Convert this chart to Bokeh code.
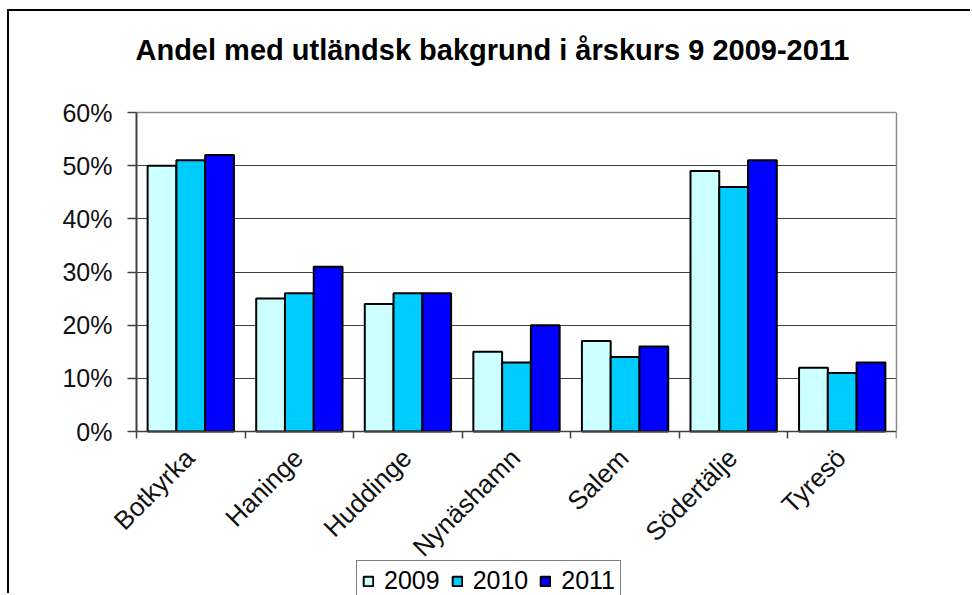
import math
from bokeh.plotting import figure
from bokeh.models import (Range1d, FixedTicker, ColumnDataSource,
                          Legend, LegendItem, Label, LabelSet, Grid, LinearAxis, BoxAnnotation)
from bokeh.core.properties import value
from bokeh.transform import dodge
from bokeh.embed import file_html
from bokeh.resources import INLINE

title = "Andel med  utländsk bakgrund i årskurs 9 2009-2011"
municipalities = ["Botkyrka", "Haninge", "Huddinge", "Nynäshamn", "Salem", "Södertälje", "Tyresö"]
years = ["2009", "2010", "2011"]
share_2009 = [50, 25, 24, 15, 17, 49, 12]
share_2010 = [51, 26, 26, 13, 14, 46, 11]
share_2011 = [52, 31, 26, 20, 16, 51, 13]
y_ticks = [0, 10, 20, 30, 40, 50, 60]
y_tick_labels = [f"{t}%" for t in y_ticks]
colors = ["#CCFFFF", "#00CCFF", "#0000FF"]

FONT = "Liberation Sans"
AXIS_COL = "#404040"
FRAME_COL = "#8c8c8c"

n = len(municipalities)

# canvas geometry (pixels)
W, H = 963, 584
FRAME_LEFT, AREA_LEFT, AREA_RIGHT = 40, 127, 887
AREA_TOP, AREA_BOTTOM = 101, 420          # pixel rows of 60% and 0%
px_per_unit = (AREA_BOTTOM - AREA_TOP) / (y_ticks[-1] - y_ticks[0])
y_start = y_ticks[0] - (H - AREA_BOTTOM) / px_per_unit
y_end = y_ticks[-1] + AREA_TOP / px_per_unit
px_per_cat = (AREA_RIGHT - AREA_LEFT) / n
x_start = -(AREA_LEFT - FRAME_LEFT) / px_per_cat

x_pos = [i + 0.5 for i in range(n)]
source = ColumnDataSource(dict(x=x_pos, name=municipalities,
                               y2009=share_2009, y2010=share_2010, y2011=share_2011))
ytick_source = ColumnDataSource(dict(y=y_ticks, text=y_tick_labels))

p = figure(width=W, height=H, x_range=Range1d(x_start, n), y_range=Range1d(y_start, y_end),
           output_backend="svg", toolbar_location=None,
           min_border_left=FRAME_LEFT, min_border_right=W - AREA_RIGHT,
           min_border_top=0, min_border_bottom=0)
p.styles = {"margin-left": "7px", "margin-top": "9px",
            "border-left": "2px solid black", "border-top": "2px solid black"}
p.background_fill_color = "white"
p.border_fill_color = "white"
p.outline_line_color = None

# grid
p.xgrid.visible = False
ygrid = p.ygrid[0]
ygrid.ticker = FixedTicker(ticks=y_ticks[1:-1])
ygrid.grid_line_color = AXIS_COL
ygrid.grid_line_width = 1
top_line = Grid(dimension=1, ticker=FixedTicker(ticks=[y_ticks[-1]]),
                grid_line_color=FRAME_COL, grid_line_width=1.5)
p.add_layout(top_line)
if "cross_bounds" in Grid.properties():
    ygrid.cross_bounds = (0, n)
    top_line.cross_bounds = (0, n)
else:
    p.add_layout(BoxAnnotation(right=0, fill_color="white", fill_alpha=1,
                               line_color=None, level="underlay"))

bw = 0.265
items = []
for k, (yr, col) in enumerate(zip(years, colors)):
    r = p.vbar(x=dodge("x", (k - 1) * bw), top="y" + yr, width=bw, bottom=0,
               fill_color=col, line_color="black", line_width=2, source=source)
    items.append(LegendItem(label=yr, renderers=[r]))

# x axis (at 0%), ticks between categories
p.xaxis.fixed_location = 0
p.xaxis.bounds = (0, n)
p.xaxis.ticker = FixedTicker(ticks=x_pos, minor_ticks=list(range(n + 1)))
p.xaxis.major_label_text_color = None
p.xaxis.major_label_standoff = 0
p.xaxis.major_tick_out = 0
p.xaxis.major_tick_in = 0
p.xaxis.minor_tick_out = 7
p.xaxis.minor_tick_in = 0
p.xaxis.minor_tick_line_color = AXIS_COL
p.xaxis.minor_tick_line_width = 1.5
p.xaxis.axis_line_color = AXIS_COL
p.xaxis.axis_line_width = 1.5

# y axis (at first category edge)
p.yaxis.fixed_location = 0
p.yaxis.bounds = (y_ticks[0], y_ticks[-1])
p.yaxis.ticker = FixedTicker(ticks=y_ticks)
p.yaxis.major_label_text_color = None
p.yaxis.major_label_standoff = 0
p.yaxis.minor_tick_out = 0
p.yaxis.minor_tick_in = 0
p.yaxis.major_tick_out = 9
p.yaxis.major_tick_in = 0
p.yaxis.major_tick_line_color = AXIS_COL
p.yaxis.major_tick_line_width = 1.5
p.yaxis.axis_line_color = AXIS_COL
p.yaxis.axis_line_width = 2

# y tick labels
p.add_layout(LabelSet(x=0, y="y", text="text", source=ytick_source, x_offset=-24,
                      text_align="right", text_baseline="middle",
                      text_font=value(FONT), text_font_size=value("25px"),
                      text_color="#111111"))

# right frame edge of the plot area
right_edge = LinearAxis(bounds=(y_ticks[0], y_ticks[-1]), ticker=FixedTicker(ticks=[]),
                        axis_line_color=FRAME_COL, axis_line_width=1.5,
                        major_tick_out=0, major_tick_in=0, minor_tick_out=0, minor_tick_in=0,
                        major_label_text_color=None)
p.add_layout(right_edge, "right")

# category labels
p.add_layout(LabelSet(x="x", y=0, text="name", source=source, angle=math.pi / 4,
                      y_offset=-22, x_offset=-1, text_align="right", text_baseline="middle",
                      text_font=value(FONT), text_font_size=value("26px"),
                      text_color="#111111"))

# title
p.add_layout(Label(x=3.316, y=y_end - 38 / px_per_unit, text=title,
                   text_align="center", text_baseline="alphabetic",
                   text_font=FONT, text_font_style="bold", text_font_size="29px",
                   text_color="black"))

legend = Legend(items=items, orientation="horizontal", location=(347 - FRAME_LEFT, -6),
                border_line_color="black", border_line_width=1.5,
                background_fill_color="white", background_fill_alpha=1,
                label_text_font=FONT, label_text_font_size="25px", label_text_color="black",
                glyph_width=12, glyph_height=12, padding=5, spacing=11,
                label_standoff=10, margin=0)
p.add_layout(legend)

open("out.html", "w").write(file_html(p, INLINE))
